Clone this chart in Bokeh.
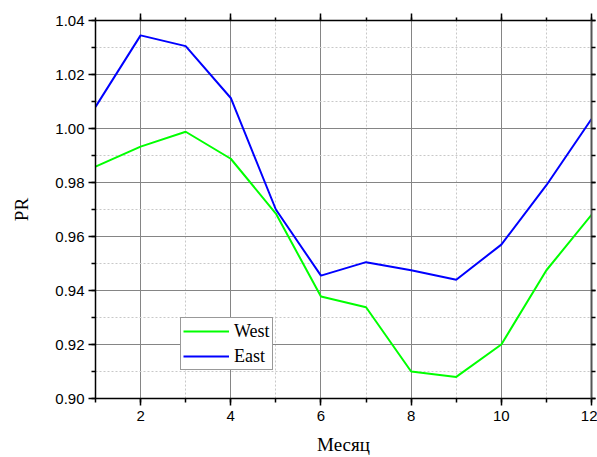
from bokeh.plotting import figure
from bokeh.models import (LinearAxis, SingleIntervalTicker, Legend, LegendItem, Range1d,
                          ColumnDataSource, PrintfTickFormatter, CustomJSTickFormatter)
from bokeh.embed import file_html
from bokeh.resources import INLINE

months = [1, 2, 3, 4, 5, 6, 7, 8, 9, 10, 11, 12]
west = [0.9859, 0.9933, 0.9988, 0.9888, 0.9685, 0.9378, 0.9338, 0.9100, 0.9080, 0.9200, 0.9475, 0.9680]
east = [1.0080, 1.0345, 1.0305, 1.0113, 0.9700, 0.9455, 0.9505, 0.9475, 0.9440, 0.9570, 0.9790, 1.0035]

src = ColumnDataSource(dict(m=months, west=west, east=east))

p = figure(width=597, height=457, x_range=Range1d(1, 12), y_range=Range1d(0.90, 1.04),
           output_backend="svg", toolbar_location=None,
           min_border_left=95, min_border_right=6, min_border_top=20, min_border_bottom=59)
p.outline_line_color = None
p.background_fill_color = "white"
p.border_fill_color = "white"

xt = SingleIntervalTicker(interval=2, num_minor_ticks=2)
yt = SingleIntervalTicker(interval=0.02, num_minor_ticks=2)

p.xaxis.ticker = xt
p.yaxis.ticker = yt
p.xgrid.ticker = xt
p.ygrid.ticker = yt

for g in (p.xgrid, p.ygrid):
    g.grid_line_color = "#858585"
    g.grid_line_width = 1
    g.minor_grid_line_color = "#c8c8c8"
    g.minor_grid_line_dash = "2 2"

tick_font = "Liberation Sans"
label_font = "Liberation Serif"

for ax in (p.xaxis[0], p.yaxis[0]):
    ax.axis_line_color = "black"
    ax.axis_line_width = 1.5
    ax.major_tick_line_color = "black"
    ax.minor_tick_line_color = "black"
    ax.major_tick_line_width = 1.5
    ax.minor_tick_line_width = 1.5
    ax.major_tick_out = 7
    ax.major_tick_in = 0
    ax.minor_tick_out = 4
    ax.minor_tick_in = 0
    ax.major_label_text_font = tick_font
    ax.major_label_text_font_size = "15px"
    ax.major_label_text_color = "black"
    ax.axis_label_text_font = label_font
    ax.axis_label_text_font_style = "normal"
    ax.axis_label_text_font_size = "19px"
    ax.axis_label_text_color = "black"

p.xaxis.axis_label = "Месяц"
p.yaxis.axis_label = "PR"
p.xaxis.major_label_standoff = 5
p.yaxis.major_label_standoff = 4
p.xaxis.axis_label_standoff = 10
p.yaxis.axis_label_standoff = 20
p.yaxis.formatter = PrintfTickFormatter(format="%.2f")

blank = CustomJSTickFormatter(code="return '';")
top = LinearAxis(ticker=xt, formatter=blank, major_label_text_color=None, major_label_standoff=0,
                 major_label_text_font_size="1px", axis_label_standoff=0,
                 axis_line_color="black", axis_line_width=1.5,
                 major_tick_out=7, major_tick_in=0, minor_tick_out=3, minor_tick_in=0,
                 major_tick_line_width=1.5, minor_tick_line_width=1.5)
right = LinearAxis(ticker=yt, formatter=blank, major_label_text_color=None, major_label_standoff=0,
                   major_label_text_font_size="1px", axis_label_standoff=0,
                   axis_line_color="#555555", axis_line_width=2,
                   major_tick_line_color="black", minor_tick_line_color="black",
                   major_tick_out=4, major_tick_in=0, minor_tick_out=4, minor_tick_in=0,
                   major_tick_line_width=1.5, minor_tick_line_width=1.5)
p.add_layout(top, "above")
p.add_layout(right, "right")

r_w = p.line("m", "west", source=src, line_color="#00ff00", line_width=2)
r_e = p.line("m", "east", source=src, line_color="#0000ff", line_width=2)

legend = Legend(items=[LegendItem(label="West", renderers=[r_w]),
                       LegendItem(label="East", renderers=[r_e])],
                location=(85, 28))
legend.border_line_color = "#333333"
legend.border_line_width = 1
legend.background_fill_alpha = 1
legend.label_text_font = label_font
legend.label_text_font_size = "18px"
legend.label_text_color = "black"
legend.glyph_width = 46
legend.glyph_height = 22
legend.label_height = 22
legend.label_standoff = 5
legend.padding = 2
legend.spacing = 3
legend.margin = 0
p.add_layout(legend)

open("out.html", "w").write(file_html(p, INLINE))
